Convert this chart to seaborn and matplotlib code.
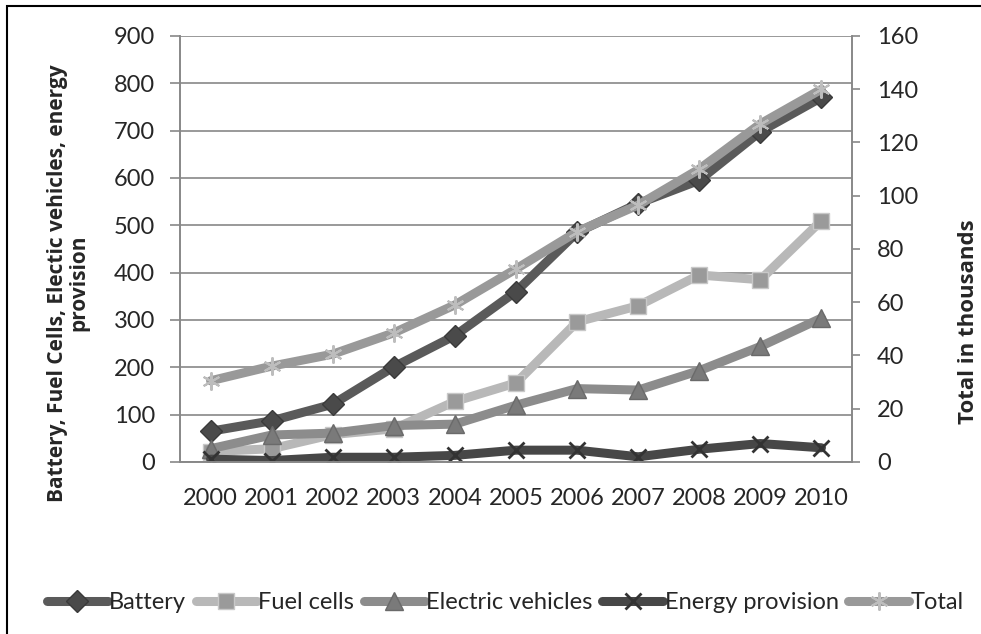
# -*- coding: utf-8 -*-
import pandas as pd
import numpy as np
import matplotlib.pyplot as plt
import seaborn as sns
from matplotlib.patches import Rectangle

# 数据
years = [2000, 2001, 2002, 2003, 2004, 2005, 2006, 2007, 2008, 2009, 2010]
battery = [65, 87, 122, 201, 267, 360, 485, 546, 595, 698, 770]
fuel_cells = [22, 28, 58, 70, 128, 167, 296, 330, 395, 385, 510]
electric_vehicles = [28, 57, 61, 77, 80, 120, 155, 152, 193, 244, 304]
energy_provision = [6, 3, 10, 10, 14, 25, 25, 11, 27, 39, 30]
total = [30.5, 36, 40.5, 48.5, 59, 72.5, 86.5, 96.5, 110, 127, 140]

left_ticks = [0, 100, 200, 300, 400, 500, 600, 700, 800, 900]
right_ticks = [0, 20, 40, 60, 80, 100, 120, 140, 160]

df = pd.DataFrame({"year": years, "Battery": battery, "Fuel cells": fuel_cells,
                   "Electric vehicles": electric_vehicles,
                   "Energy provision": energy_provision, "Total": total})

sns.set_style("white")
plt.rcParams['font.family'] = ['Lato', 'DejaVu Sans']
fs = 17
lab_font = ['Open Sans', 'DejaVu Sans']

fig = plt.figure(figsize=(9.81, 6.34), dpi=100)
ax = fig.add_axes([0.1835, 0.2713, 0.685, 0.672])
ax2 = ax.twinx()

grid_c = '#888888'
styles = {
    "Battery": dict(color='#5a5a5a', marker='D', markersize=11, mfc='#4a4a4a', mec='#3a3a3a'),
    "Fuel cells": dict(color='#b8b8b8', marker='s', markersize=12, mfc='#9a9a9a', mec='#c8c8c8'),
    "Electric vehicles": dict(color='#8c8c8c', marker='^', markersize=13, mfc='#7a7a7a', mec='#6a6a6a'),
    "Energy provision": dict(color='#474747', marker='x', markersize=12, mfc='#333333', mec='#333333', mew=2),
}
for name, st in styles.items():
    sns.lineplot(data=df, x="year", y=name, ax=ax, color=st['color'], linewidth=6.5,
                 marker=st['marker'], markersize=st['markersize'],
                 markerfacecolor=st['mfc'], markeredgecolor=st['mec'],
                 markeredgewidth=st.get('mew', 1), label=name, legend=False,
                 solid_capstyle='round', solid_joinstyle='round')
sns.lineplot(data=df, x="year", y="Total", ax=ax2, color='#999999', linewidth=6.5,
             marker=(6, 2, 0), markersize=13, markeredgecolor='#bdbdbd',
             markeredgewidth=1.5, label="Total", legend=False,
             solid_capstyle='round', solid_joinstyle='round')

ax.set_ylim(0, 900)
ax2.set_ylim(0, 160)
ax.set_xlim(years[0] - 0.5, years[-1] + 0.5)
ax.set_yticks(left_ticks)
ax2.set_yticks(right_ticks)
ax.set_xticks(years)
ax.set_xticks(np.arange(years[0] - 0.5, years[-1] + 1, 1), minor=True)
ax.yaxis.grid(True, color=grid_c, linewidth=1.2)
ax.set_axisbelow(True)

for a in (ax, ax2):
    for s in a.spines.values():
        s.set_color(grid_c)
        s.set_linewidth(1.2)
    a.spines['top'].set_visible(False)
ax.tick_params(axis='y', direction='out', length=7, color=grid_c, width=1.2,
               labelsize=fs, pad=11)
ax2.tick_params(axis='y', direction='out', length=6, color=grid_c, width=1.2,
                labelsize=fs, pad=12)
ax.tick_params(axis='x', which='major', length=0, labelsize=fs, pad=19)
ax.tick_params(axis='x', which='minor', direction='out', length=6, color=grid_c, width=1.2)

ax.set_xlabel("")
ax.set_ylabel("Battery, Fuel Cells, Electic vehicles, energy\nprovision",
              fontsize=15, fontweight='bold', family=lab_font, linespacing=1.0)
ax.yaxis.set_label_coords(-0.135, 0.42)
ax2.set_ylabel("Total in thousands", fontsize=16, fontweight='bold', family=lab_font)
ax2.yaxis.set_label_coords(1.158, 0.33)

h1, l1 = ax.get_legend_handles_labels()
h2, l2 = ax2.get_legend_handles_labels()
fig.legend(h1 + h2, l1 + l2, loc='center', bbox_to_anchor=(0.515, 0.05), ncol=5,
           frameon=False, fontsize=fs, handlelength=2.6, handletextpad=0.05,
           columnspacing=0.4)

# 外框
fig.add_artist(Rectangle((7 / 981, -0.1), 1.2, 1 - 6 / 634 + 0.1, transform=fig.transFigure,
                         fill=False, edgecolor='black', linewidth=1.5))

fig.savefig('out.png', dpi=100)
